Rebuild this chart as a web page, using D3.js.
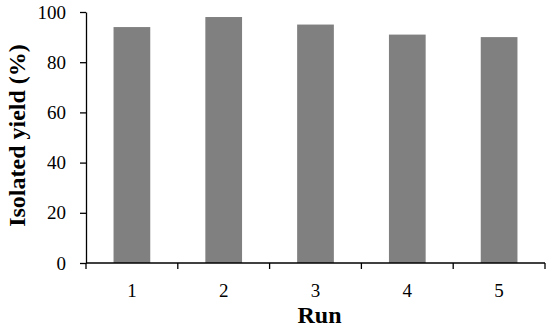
<!DOCTYPE html>
<html>
<head>
<meta charset="utf-8">
<script src="https://cdn.jsdelivr.net/npm/d3@7"></script>
<style>
  body { margin: 0; background: #fff; }
  text { font-family: "Liberation Serif", "Times New Roman", serif; }
</style>
</head>
<body>
<script>
var runs = ["1", "2", "3", "4", "5"];
var yields = [94, 98, 95, 91, 90];
var yTicks = [0, 20, 40, 60, 80, 100];

var width = 550, height = 328;
var plotLeft = 86, plotRight = 545, plotTop = 12, plotBottom = 263;

var svg = d3.select("body").append("svg")
    .attr("width", width)
    .attr("height", height);

var x = d3.scaleBand().domain(runs).range([plotLeft, plotRight]).padding(0);
var y = d3.scaleLinear().domain([0, 100]).range([plotBottom, plotTop]);

// bars
var barW = x.bandwidth() * 0.4;
svg.selectAll("rect.bar")
    .data(yields)
    .enter().append("rect")
      .attr("class", "bar")
      .attr("x", function(d, i){ return x(runs[i]) + (x.bandwidth() - barW) / 2; })
      .attr("y", function(d){ return y(d); })
      .attr("width", barW)
      .attr("height", function(d){ return plotBottom - y(d); })
      .attr("fill", "#808080");

// y axis
var yAxis = d3.axisLeft(y).tickValues(yTicks).tickSize(6).tickSizeOuter(0).tickPadding(14);
var gy = svg.append("g").attr("transform", "translate(" + plotLeft + ",0)").call(yAxis);
gy.attr("font-family", null);
gy.selectAll("text").style("font-size", "19px").attr("fill", "#000");
gy.selectAll("line, path").attr("stroke", "#000").attr("stroke-width", 1.3);

// x axis: ticks at band boundaries
var gx = svg.append("g");
gx.append("line")
    .attr("x1", plotLeft).attr("x2", plotRight)
    .attr("y1", plotBottom).attr("y2", plotBottom)
    .attr("stroke", "#000").attr("stroke-width", 1.3);
var bounds = runs.map(function(r){ return x(r); }).concat([x(runs[runs.length - 1]) + x.bandwidth()]);
gx.selectAll("line.tick")
    .data(bounds)
    .enter().append("line")
      .attr("class", "tick")
      .attr("x1", function(d){ return d; }).attr("x2", function(d){ return d; })
      .attr("y1", plotBottom).attr("y2", plotBottom + 6)
      .attr("stroke", "#000").attr("stroke-width", 1.3);
gx.selectAll("text")
    .data(runs)
    .enter().append("text")
      .attr("x", function(d){ return x(d) + x.bandwidth() / 2; })
      .attr("y", 297)
      .attr("text-anchor", "middle")
      .style("font-size", "19px")
      .text(function(d){ return d; });

// axis titles
svg.append("text")
    .attr("x", (plotLeft + plotRight) / 2 + 4)
    .attr("y", 323)
    .attr("text-anchor", "middle")
    .style("font-size", "24px")
    .style("font-weight", "bold")
    .text("Run");

svg.append("text")
    .attr("transform", "translate(25," + ((plotTop + plotBottom) / 2 - 2) + ") rotate(-90)")
    .attr("text-anchor", "middle")
    .style("font-size", "24px")
    .style("font-weight", "bold")
    .text("Isolated yield (%)");
</script>
</body>
</html>
